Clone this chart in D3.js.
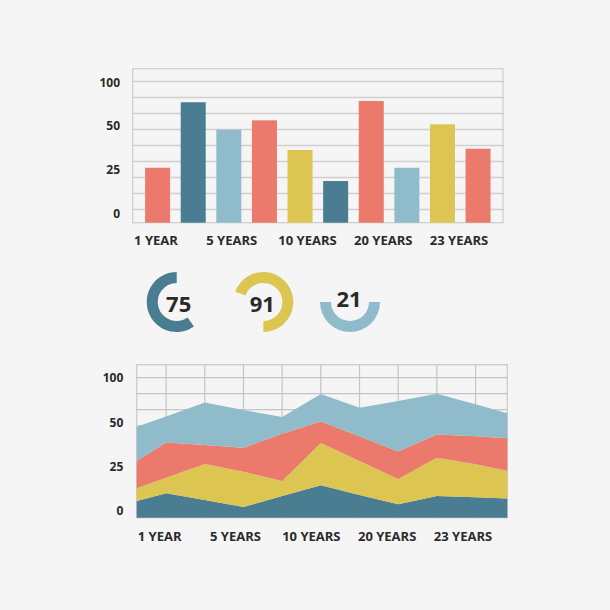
<!DOCTYPE html>
<html>
<head>
<meta charset="utf-8">
<script src="https://cdn.jsdelivr.net/npm/d3@7/dist/d3.min.js"></script>
<style>
  html, body { margin: 0; padding: 0; background: #f5f5f5; }
  svg { display: block; }
  text { font-family: "Open Sans", Lato, sans-serif; font-weight: 700; fill: #2a2a2a; }
</style>
</head>
<body>
<svg id="chart" width="610" height="610"></svg>
<script>
// ---------------- DATA ----------------
const yTickLabels = ["100", "50", "25", "0"];
const xCategories = ["1 YEAR", "5 YEARS", "10 YEARS", "20 YEARS", "23 YEARS"];

// bar chart (10 bars)
const barIds = ["b1", "b2", "b3", "b4", "b5", "b6", "b7", "b8", "b9", "b10"];
const barValues = [38.9, 85.3, 65.9, 72.5, 51.5, 29.5, 86.2, 38.9, 69.7, 52.4];
const barSeries = ["coral", "teal", "sky", "coral", "gold", "teal", "coral", "sky", "gold", "coral"];

// donuts
const donutLabels = ["75", "91", "21"];
const donutSeries = ["teal", "gold", "sky"];
const donutStartDeg = [145, -70, 90];
const donutEndDeg = [360, 180, 270];

// stacked area chart (x in grid units, gridlines at integers)
const areaX = [-0.76, 0, 1, 2, 3, 4, 5, 6, 7, 8, 8.82];
const areaTeal = [11.9, 17.4, 12.6, 7.6, 15.5, 23.1, 16.2, 9.6, 15.5, 14.6, 13.8];
const areaGold = [9.1, 11.2, 25.8, 25.3, 10.7, 30.3, 24.3, 18.0, 27.4, 23.5, 19.8];
const areaCoral = [19.5, 25.2, 13.5, 17.1, 33.8, 15.4, 17.6, 19.6, 16.6, 20.0, 23.1];
const areaSky = [24.5, 18.4, 30.3, 26.9, 11.9, 19.6, 20.5, 36.2, 29.1, 22.9, 17.9];
const areaKeys = ["teal", "gold", "coral", "sky"];

// ---------------- STYLE ----------------
const palette = { coral: "#ec7a6c", teal: "#4b7d92", sky: "#8fbbca", gold: "#dcc550" };
const color = d3.scaleOrdinal().domain(Object.keys(palette)).range(Object.values(palette));

const svg = d3.select("#chart");

// ================= TOP BAR CHART =================
const boxA = { left: 132.7, right: 503, top: 68.7, bottom: 222.7, line100: 81.5 };
const yBar = d3.scaleLinear().domain([0, 100]).range([boxA.bottom, boxA.line100]);
const xBar = d3.scaleBand().domain(barIds).range([boxA.left, boxA.right])
  .paddingInner(0.298).paddingOuter(0.349);
const gridTop = d3.scaleLinear().domain([0, 1]).range([boxA.line100, boxA.line100 + 16]);

const g1 = svg.append("g");
g1.append("rect")
  .attr("x", boxA.left).attr("y", boxA.top)
  .attr("width", boxA.right - boxA.left).attr("height", boxA.bottom - boxA.top)
  .attr("fill", "#f5f5f5").attr("stroke", "#d0d0d0").attr("stroke-width", 1.3);
g1.selectAll("line.grid").data(d3.range(9)).join("line")
  .attr("class", "grid")
  .attr("x1", boxA.left).attr("x2", boxA.right)
  .attr("y1", d => gridTop(d)).attr("y2", d => gridTop(d))
  .attr("stroke", "#d0d0d0").attr("stroke-width", 1.3);

g1.selectAll("rect.bar").data(barIds).join("rect")
  .attr("class", "bar")
  .attr("x", d => xBar(d))
  .attr("width", xBar.bandwidth())
  .attr("y", (d, i) => yBar(barValues[i]))
  .attr("height", (d, i) => yBar(0) - yBar(barValues[i]))
  .attr("fill", (d, i) => color(barSeries[i]));

const yLabTop = d3.scalePoint().domain(yTickLabels).range([82.3, 213.5]);
g1.selectAll("text.ylab").data(yTickLabels).join("text")
  .attr("class", "ylab")
  .attr("x", 120).attr("y", d => yLabTop(d)).attr("dy", "0.36em")
  .attr("text-anchor", "end").attr("font-size", 12).text(d => d);

const xLabTop = d3.scalePoint().domain(xCategories).range([156, 459]);
g1.selectAll("text.xlab").data(xCategories).join("text")
  .attr("class", "xlab")
  .attr("x", d => xLabTop(d)).attr("y", 240.7).attr("dy", "0.36em")
  .attr("text-anchor", "middle").attr("font-size", 13).text(d => d);

// ================= DONUTS =================
const xDonut = d3.scalePoint().domain(donutLabels).range([176.7, 350]);
const arc = d3.arc().innerRadius(19).outerRadius(30);
const toRad = d => d * Math.PI / 180;
const gd = svg.append("g");
const dg = gd.selectAll("g.donut").data(donutLabels).join("g")
  .attr("class", "donut")
  .attr("transform", d => `translate(${xDonut(d)},302)`);
dg.append("path")
  .attr("d", (d, i) => arc({ startAngle: toRad(donutStartDeg[i]), endAngle: toRad(donutEndDeg[i]) }))
  .attr("fill", (d, i) => color(donutSeries[i]));
dg.append("text")
  .attr("x", (d, i) => i === 0 ? 2 : -1).attr("y", (d, i) => i === 2 ? -2.5 : 2).attr("dy", "0.36em")
  .attr("text-anchor", "middle").attr("font-size", 22)
  .attr("fill", "#222").text(d => d);

// ================= BOTTOM AREA CHART =================
const boxB = { left: 136.7, right: 507.3, top: 364.7, bottom: 517.7, line100: 377.7 };
const xArea = d3.scaleLinear().domain([areaX[0], areaX[areaX.length - 1]]).range([boxB.left, boxB.right]);
const yArea = d3.scaleLinear().domain([0, 100]).range([boxB.bottom, boxB.line100]);
const gridBot = d3.scaleLinear().domain([0, 1]).range([boxB.line100, boxB.line100 + 16]);

const g2 = svg.append("g");
g2.append("rect")
  .attr("x", boxB.left).attr("y", boxB.top)
  .attr("width", boxB.right - boxB.left).attr("height", boxB.bottom - boxB.top)
  .attr("fill", "#f5f5f5").attr("stroke", "#cccccc").attr("stroke-width", 1.3);
g2.selectAll("line.hgrid").data(d3.range(9)).join("line")
  .attr("class", "hgrid")
  .attr("x1", boxB.left).attr("x2", boxB.right)
  .attr("y1", d => gridBot(d)).attr("y2", d => gridBot(d))
  .attr("stroke", "#c4c4c4").attr("stroke-width", 1.2);
g2.selectAll("line.vgrid").data(d3.range(0, 9)).join("line")
  .attr("class", "vgrid")
  .attr("x1", d => xArea(d)).attr("x2", d => xArea(d))
  .attr("y1", boxB.top).attr("y2", boxB.bottom)
  .attr("stroke", "#c4c4c4").attr("stroke-width", 1.2);

const rows = areaX.map((x, i) => ({
  x, teal: areaTeal[i], gold: areaGold[i], coral: areaCoral[i], sky: areaSky[i]
}));
const stacked = d3.stack().keys(areaKeys)(rows);
const area = d3.area()
  .x(d => xArea(d.data.x))
  .y0(d => yArea(d[0]))
  .y1(d => yArea(d[1]));
g2.selectAll("path.layer").data(stacked).join("path")
  .attr("class", "layer")
  .attr("d", area)
  .attr("fill", d => color(d.key));

const yLabBot = d3.scalePoint().domain(yTickLabels).range([378, 510.7]);
g2.selectAll("text.ylab").data(yTickLabels).join("text")
  .attr("class", "ylab")
  .attr("x", 123.3).attr("y", d => yLabBot(d)).attr("dy", "0.36em")
  .attr("text-anchor", "end").attr("font-size", 12).text(d => d);

const xLabBot = d3.scalePoint().domain(xCategories).range([159.7, 463]);
g2.selectAll("text.xlab").data(xCategories).join("text")
  .attr("class", "xlab")
  .attr("x", d => xLabBot(d)).attr("y", 536.7).attr("dy", "0.36em")
  .attr("text-anchor", "middle").attr("font-size", 13).text(d => d);
</script>
</body>
</html>
